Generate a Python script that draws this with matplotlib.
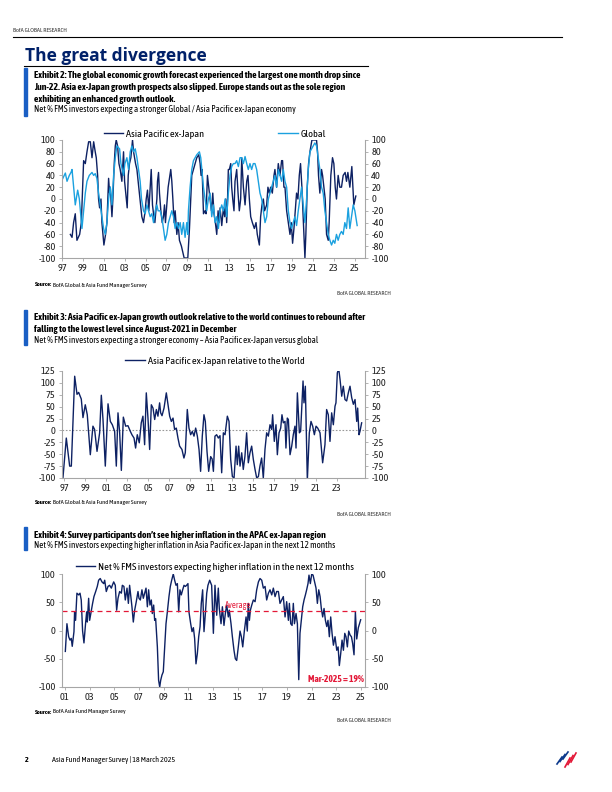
import matplotlib
matplotlib.use("Agg")
import matplotlib.pyplot as plt
from matplotlib import font_manager
from matplotlib.lines import Line2D

# ---------------- data ----------------
# Exhibit 2: net % expecting a stronger economy
ex2_apxj_t = [1997.80, 1997.96, 1998.11, 1998.27, 1998.43, 1998.69, 1998.85, 1999.07, 1999.23, 1999.39,
              1999.55, 1999.71, 1999.87, 2000.03, 2000.18, 2000.28, 2000.41, 2000.50, 2000.60, 2000.73,
              2000.82, 2000.92, 2001.01, 2001.17, 2001.30, 2001.36, 2001.46, 2001.55, 2001.62, 2001.78,
              2001.87, 2002.00, 2002.10, 2002.19, 2002.32, 2002.45, 2002.57, 2002.73, 2002.89, 2002.99,
              2003.15, 2003.24, 2003.34, 2003.46, 2003.59, 2003.75, 2003.85, 2004.04, 2004.17, 2004.23,
              2004.36, 2004.48, 2004.64, 2004.80, 2004.96, 2005.06, 2005.18, 2005.31, 2005.41, 2005.54,
              2005.66, 2005.76, 2005.89, 2005.98, 2006.08, 2006.14, 2006.24, 2006.33, 2006.46, 2006.59,
              2006.71, 2006.81, 2006.90, 2007.03, 2007.16, 2007.41, 2007.51, 2007.61, 2007.73, 2007.83,
              2007.99, 2008.11, 2008.24, 2008.43, 2008.56, 2008.69, 2009.04, 2009.10, 2009.20, 2009.32,
              2009.42, 2009.58, 2009.74, 2009.90, 2010.09, 2010.22, 2010.31, 2010.41, 2010.54, 2010.69,
              2010.79, 2010.92, 2011.04, 2011.17, 2011.30, 2011.43, 2011.55, 2011.68, 2011.81, 2011.94,
              2012.03, 2012.13, 2012.29, 2012.45, 2012.57, 2012.67, 2012.76, 2012.83, 2012.92, 2013.02,
              2013.15, 2013.24, 2013.34, 2013.46, 2013.56, 2013.72, 2013.85, 2013.97, 2014.10, 2014.20,
              2014.36, 2014.52, 2014.68, 2014.80, 2014.93, 2015.06, 2015.22, 2015.41, 2015.57, 2015.69,
              2015.89, 2016.01, 2016.14, 2016.27, 2016.39, 2016.59, 2016.71, 2016.84, 2016.97, 2017.13,
              2017.29, 2017.38, 2017.54, 2017.70, 2017.86, 2018.02, 2018.11, 2018.24, 2018.34, 2018.50,
              2018.66, 2018.82, 2018.94, 2019.07, 2019.20, 2019.32, 2019.45, 2019.58, 2019.71, 2019.83,
              2019.96, 2020.25, 2020.34, 2020.47, 2020.60, 2020.73, 2020.92, 2021.36, 2021.46, 2021.55,
              2021.68, 2021.84, 2021.94, 2022.06, 2022.19, 2022.32, 2022.48, 2022.57, 2022.73, 2022.89,
              2023.02, 2023.15, 2023.27, 2023.43, 2023.59, 2023.75, 2023.91, 2024.10, 2024.23, 2024.36,
              2024.55, 2024.74, 2024.87, 2024.93, 2025.12]
ex2_apxj = [-60, -65, -40, -25, -70, -60, -40, 65, 60, 80,
            97, 97, 70, 97, 80, 70, 40, 0, -15, 0,
            -40, -60, -78, -60, -40, -10, 35, 10, 20, -30,
            0, 60, 90, 100, 90, 60, 50, 30, 80, 30,
            0, -15, 40, 60, 70, 100, 80, 60, 50, 40,
            20, 0, -30, -40, -20, 0, 15, -20, 10, 50,
            -10, -25, -40, -20, 0, 30, 45, 10, -20, -40,
            -30, -10, -40, -10, 20, 50, 30, 0, -40, -20,
            -60, -40, -70, -80, -90, -100, -100, -80, -50, 0,
            40, 50, 60, 70, 75, 60, 40, 50, -25, -20,
            -25, 40, 20, 0, -20, 10, -25, -40, -60, -20,
            -40, -15, -45, -15, -30, 0, -40, -10, 50, 50,
            60, 20, 0, -20, 30, 50, 10, -20, 0, 70,
            20, -10, 30, 40, 0, -30, -40, -50, -40, -60,
            -78, -30, -10, 0, -20, -10, 20, 10, 20, 10,
            40, 50, 20, 60, 40, 65, 65, 20, 20, -20,
            -40, -60, -40, -75, -50, -20, 10, 0, 40, 60,
            20, -100, -60, 20, 60, 80, 100, 100, 80, 40,
            10, 50, 40, 20, 0, -60, -70, -40, 40, 70,
            60, 20, 0, 40, 20, 20, 40, 45, 30, 45,
            20, 55, 10, -10, 5]

ex2_glob_t = [1997.00, 1997.16, 1997.32, 1997.48, 1997.70, 1997.86, 1997.96, 1998.11, 1998.27, 1998.50,
              1998.66, 1998.91, 1999.07, 1999.23, 1999.39, 1999.61, 1999.87, 2000.03, 2000.18, 2000.34,
              2000.50, 2000.66, 2000.82, 2000.98, 2001.14, 2001.30, 2001.46, 2001.62, 2001.78, 2001.94,
              2002.10, 2002.25, 2002.51, 2002.64, 2002.76, 2002.89, 2003.02, 2003.21, 2003.37, 2003.53,
              2003.69, 2003.85, 2004.01, 2004.17, 2004.32, 2004.48, 2004.61, 2004.80, 2004.96, 2005.12,
              2005.28, 2005.44, 2005.60, 2005.76, 2005.92, 2006.08, 2006.20, 2006.39, 2006.55, 2006.71,
              2006.87, 2007.03, 2007.19, 2007.35, 2007.51, 2007.67, 2007.83, 2007.99, 2008.15, 2008.31,
              2008.46, 2008.62, 2008.78, 2008.94, 2009.04, 2009.10, 2009.26, 2009.42, 2009.58, 2009.90,
              2010.15, 2010.28, 2010.38, 2010.54, 2010.69, 2010.85, 2011.01, 2011.17, 2011.33, 2011.49,
              2011.65, 2011.81, 2011.97, 2012.13, 2012.29, 2012.45, 2012.61, 2012.76, 2012.92, 2013.08,
              2013.24, 2013.40, 2013.56, 2013.72, 2013.88, 2014.04, 2014.20, 2014.36, 2014.52, 2014.68,
              2014.83, 2014.99, 2015.15, 2015.31, 2015.47, 2015.63, 2015.79, 2015.95, 2016.11, 2016.27,
              2016.43, 2016.59, 2016.75, 2016.90, 2017.06, 2017.22, 2017.38, 2017.54, 2017.70, 2017.86,
              2018.02, 2018.18, 2018.34, 2018.50, 2018.66, 2018.82, 2018.97, 2019.13, 2019.29, 2019.45,
              2019.61, 2019.77, 2019.93, 2020.09, 2020.25, 2020.41, 2020.57, 2020.73, 2020.89, 2021.04,
              2021.20, 2021.36, 2021.52, 2021.68, 2021.84, 2022.00, 2022.16, 2022.32, 2022.48, 2022.64,
              2022.80, 2022.96, 2023.11, 2023.27, 2023.43, 2023.59, 2023.75, 2023.91, 2024.07, 2024.23,
              2024.39, 2024.55, 2024.71, 2024.87, 2025.03, 2025.25]
ex2_glob = [32, 38, 44, 30, 40, 45, 50, 20, -10, 15,
            0, -50, -20, 10, 30, 40, 45, 40, 43, 35,
            10, -10, -30, -50, -60, -40, 0, 20, -10, 40,
            70, 90, 85, 60, 50, 40, 60, 70, 50, 80,
            90, 80, 85, 70, 50, 30, 0, -20, -25, -10,
            -20, -30, -25, -40, -20, -10, -20, -20, -30, -50,
            -70, -60, -40, -30, -20, -30, -50, -40, -50, -40,
            -60, -40, -65, -40, -60, -20, 20, 50, 65, 75,
            80, 70, 50, 20, 0, -20, 0, 10, -30, -10,
            -40, -30, -50, -20, -10, -20, 0, -30, 10, 40,
            55, 60, 60, 65, 55, 70, 70, 60, 72, 60,
            50, 60, 50, 60, 60, 50, 30, 10, 0, -20,
            -40, -30, 0, 10, 20, 30, 40, 20, 50, 40,
            30, 50, 30, 20, -20, -40, -50, -40, -30, -45,
            -20, 0, 20, -10, -40, 0, 50, 80, 85, 90,
            95, 90, 70, 50, 20, 10, -20, -40, -60, -70,
            -78, -70, -75, -60, -70, -60, -55, -60, -40, -50,
            -15, -50, -30, -10, -20, -45]

ex2_ticks = list(range(1997, 2026, 2))
ex2_ticklabels = ["97", "99", "01", "03", "05", "07", "09", "11", "13", "15", "17", "19", "21", "23", "25"]

# Exhibit 3: Asia Pacific ex-Japan relative to the world
ex3_t = [1996.87, 1997.19, 1997.51, 1997.67, 1997.99, 1998.21, 1998.37, 1998.62, 1998.78, 1999.00,
         1999.19, 1999.48, 1999.73, 1999.89, 2000.12, 2000.37, 2000.53, 2000.69, 2000.91, 2001.17,
         2001.39, 2001.58, 2001.80, 2001.96, 2002.12, 2002.28, 2002.44, 2002.63, 2002.85, 2003.07,
         2003.30, 2003.45, 2003.65, 2003.80, 2003.96, 2004.15, 2004.34, 2004.50, 2004.66, 2004.82,
         2004.98, 2005.14, 2005.30, 2005.46, 2005.62, 2005.78, 2005.93, 2006.09, 2006.19, 2006.32,
         2006.51, 2006.73, 2006.89, 2007.05, 2007.21, 2007.37, 2007.52, 2007.68, 2007.84, 2008.00,
         2008.22, 2008.41, 2008.54, 2008.73, 2008.89, 2009.05, 2009.21, 2009.37, 2009.53, 2009.69,
         2009.85, 2010.00, 2010.16, 2010.32, 2010.45, 2010.61, 2010.77, 2010.96, 2011.10, 2011.22,
         2011.37, 2011.53, 2011.69, 2011.85, 2012.01, 2012.17, 2012.33, 2012.55, 2012.71, 2012.87,
         2013.03, 2013.19, 2013.38, 2013.50, 2013.63, 2013.76, 2013.92, 2014.07, 2014.23, 2014.39,
         2014.55, 2014.71, 2014.87, 2015.03, 2015.19, 2015.35, 2015.51, 2015.66, 2015.82, 2015.98,
         2016.14, 2016.30, 2016.46, 2016.62, 2016.78, 2016.87, 2017.03, 2017.19, 2017.32, 2017.48,
         2017.64, 2017.76, 2017.89, 2018.05, 2018.14, 2018.27, 2018.37, 2018.53, 2018.69, 2018.84,
         2019.00, 2019.10, 2019.23, 2019.42, 2019.54, 2019.64, 2019.77, 2019.86, 2019.99, 2020.18,
         2020.37, 2020.53, 2020.69, 2020.85, 2021.01, 2021.17, 2021.39, 2021.64, 2021.86, 2022.02,
         2022.18, 2022.34, 2022.50, 2022.66, 2022.82, 2022.91, 2023.04, 2023.17, 2023.30, 2023.46,
         2023.61, 2023.77, 2023.93, 2024.09, 2024.25, 2024.41, 2024.57, 2024.73, 2024.89, 2024.98,
         2025.11, 2025.20, 2025.36]
ex3_rel = [-100, -16, -75, -75, 114, 76, 80, 66, 27, 54,
           33, -51, 9, 2, -44, -5, 74, 23, -75, 56,
           19, 12, -2, -75, 37, -5, -84, 28, 9, 10,
           -2, -9, -16, -37, -9, -26, 16, 30, -30, 79,
           26, -40, 54, 47, 23, 44, 30, 58, 37, 31,
           47, 79, 54, 30, 19, 26, 2, 5, -16, -33,
           -40, -58, -47, 44, 5, -9, -2, -12, 5, -12,
           -40, -86, -12, 33, 19, -44, -86, -55, -60, -86,
           -12, -9, -16, -11, -89, -5, -9, 30, 19, -61,
           -97, -100, -33, -72, -33, -75, -47, -82, -54, -5,
           -68, -47, -33, -61, -82, -100, -97, -75, -58, -100,
           -40, -5, -12, 12, 2, 33, -23, 12, -51, -5,
           5, 33, 16, 19, -37, 26, 23, -51, -33, -9,
           9, -37, 79, -5, -2, 44, 104, 58, 93, -105,
           -5, 19, 9, -9, 9, 5, -5, -68, -30, 44,
           33, -23, 37, 12, 51, 58, 121, 130, 107, 72,
           93, 65, 62, 79, 93, 69, 55, 65, 19, 47,
           -9, -2, 16]

ex3_ticks = list(range(1997, 2024, 2))
ex3_ticklabels = ["97", "99", "01", "03", "05", "07", "09", "11", "13", "15", "17", "19", "21", "23"]

# Exhibit 4: net % expecting higher inflation in the next 12 months
ex4_t = [2001.03, 2001.16, 2001.30, 2001.41, 2001.51, 2001.59, 2001.73, 2001.78, 2001.86, 2001.97,
         2002.11, 2002.22, 2002.32, 2002.43, 2002.54, 2002.68, 2002.76, 2002.81, 2002.92, 2003.00,
         2003.14, 2003.24, 2003.35, 2003.49, 2003.62, 2003.73, 2003.86, 2004.00, 2004.14, 2004.22,
         2004.35, 2004.49, 2004.62, 2004.76, 2004.84, 2004.95, 2005.08, 2005.19, 2005.30, 2005.43,
         2005.57, 2005.65, 2005.78, 2005.89, 2006.03, 2006.14, 2006.24, 2006.43, 2006.54, 2006.65,
         2006.78, 2006.92, 2007.00, 2007.11, 2007.24, 2007.35, 2007.46, 2007.57, 2007.68, 2007.78,
         2007.89, 2008.00, 2008.08, 2008.19, 2008.27, 2008.35, 2008.49, 2008.59, 2008.68, 2008.76,
         2008.86, 2008.97, 2009.08, 2009.19, 2009.30, 2009.43, 2009.54, 2009.65, 2009.78, 2009.89,
         2010.00, 2010.11, 2010.22, 2010.32, 2010.43, 2010.54, 2010.65, 2010.76, 2010.86, 2010.97,
         2011.05, 2011.19, 2011.30, 2011.41, 2011.51, 2011.62, 2011.73, 2011.84, 2011.95, 2012.05,
         2012.16, 2012.27, 2012.38, 2012.49, 2012.59, 2012.73, 2012.89, 2013.03, 2013.16, 2013.30,
         2013.43, 2013.51, 2013.65, 2013.76, 2013.89, 2014.00, 2014.11, 2014.24, 2014.32, 2014.46,
         2014.57, 2014.70, 2014.81, 2014.92, 2015.05, 2015.19, 2015.30, 2015.41, 2015.54, 2015.68,
         2015.78, 2015.86, 2015.95, 2016.03, 2016.14, 2016.27, 2016.41, 2016.54, 2016.68, 2016.81,
         2016.95, 2017.08, 2017.22, 2017.35, 2017.49, 2017.62, 2017.76, 2017.89, 2018.03, 2018.16,
         2018.30, 2018.43, 2018.57, 2018.70, 2018.84, 2018.97, 2019.11, 2019.19, 2019.30, 2019.41,
         2019.51, 2019.60, 2019.73, 2019.84, 2019.95, 2020.05, 2020.16, 2020.27, 2020.38, 2020.49,
         2020.59, 2020.70, 2020.78, 2020.89, 2021.00, 2021.11, 2021.24, 2021.35, 2021.46, 2021.57,
         2021.68, 2021.78, 2021.89, 2022.00, 2022.11, 2022.22, 2022.32, 2022.43, 2022.54, 2022.65,
         2022.76, 2022.89, 2023.03, 2023.14, 2023.24, 2023.35, 2023.46, 2023.57, 2023.68, 2023.78,
         2023.89, 2024.00, 2024.11, 2024.22, 2024.32, 2024.43, 2024.54, 2024.65, 2024.78, 2024.97]
ex4_infl = [-37, 12, -11, -17, -14, -28, -2, 33, 18, 66,
            63, 66, 54, -1, -22, 15, 33, 15, 57, 18,
            36, 48, 60, 69, 78, 89, 92, 86, 83, 89,
            69, 78, 80, 75, 80, 86, 80, 36, 57, 69,
            66, 80, 78, 54, 75, 48, 80, 42, 15, 36,
            51, 69, 57, 54, 72, 57, 66, 75, 42, 72,
            45, 54, 30, 45, 18, 21, -29, -88, -100, -88,
            -79, -73, -29, 12, 33, 60, 78, 89, 100, 89,
            80, 83, 33, 72, 63, 72, 80, 78, 80, 83,
            33, 12, -2, 5, -14, -59, -41, -11, 7, 48,
            72, -2, 30, 66, 80, 89, 80, -5, 80, 27,
            75, 39, 12, 42, 9, 30, 45, 24, 36, 12,
            -11, -35, -50, -53, -29, -1, -11, -29, -1, 24,
            -1, 48, 18, 36, 45, 54, 51, 72, 86, 92,
            89, 75, 78, 54, 66, 72, 63, 75, 60, 69,
            69, 48, 54, 60, 24, 51, 18, 48, 12, 9,
            48, 12, 30, 12, -87, -5, 18, 42, 54, 63,
            72, 83, 98, 83, 100, 98, 86, 75, 48, 72,
            60, 39, 24, 39, 18, 7, 18, -11, 24, -5,
            -26, -11, -35, -29, -62, -41, -17, -35, -5, -11,
            -29, -1, -8, -11, -23, -43, 33, -15, 5, 19]
ex4_average = 34
ex4_last_label = "Mar-2025 = 19%"

ex4_ticks = list(range(2001, 2026, 2))
ex4_ticklabels = ["01", "03", "05", "07", "09", "11", "13", "15", "17", "19", "21", "23", "25"]

# ---------------- style ----------------
W, H = 612, 792
NAVY = "#0d2163"
LIGHT = "#1ba1df"
TITLE = "#012169"
BAR = "#1a5fc4"
RED = "#e31837"
SPINE = "#a6a6a6"

names = {f.name for f in font_manager.fontManager.ttflist}
COND = "Liberation Sans"
for cand in ["Asap Condensed", "Barlow Semi Condensed", "Liberation Sans Narrow"]:
    if cand in names:
        COND = cand
        break
plt.rcParams["font.family"] = [COND, "DejaVu Sans"]
plt.rcParams["axes.unicode_minus"] = False


def fx(x):
    return x / W


def fy(y):
    return 1 - y / H


def txt(x, y, s, **kw):
    kw.setdefault("va", "center")
    return fig.text(fx(x), fy(y), s, **kw)


def make_axes(left, right, top, bottom):
    ax = fig.add_axes([fx(left), fy(bottom), (right - left) / W, (bottom - top) / H])
    ax.spines["top"].set_visible(False)
    for side in ["left", "right", "bottom"]:
        ax.spines[side].set_color(SPINE)
        ax.spines[side].set_linewidth(0.8)
    ax.tick_params(axis="both", labelsize=7.5, colors="#222222", length=2.5, width=0.6,
                   color=SPINE, direction="out", pad=2)
    ax.tick_params(axis="y", right=True, labelright=True)
    return ax


def exhibit_head(top, lines, sub, bottom):
    fig.add_artist(plt.Rectangle((fx(24), fy(bottom)), 3 / W, (bottom - top) / H,
                                 color=BAR, transform=fig.transFigure))
    y = top + 8
    for ln in lines:
        txt(34, y, ln, fontsize=7.0, fontweight="bold")
        y += 11.8
    txt(34, y - 1.5, sub, fontsize=6.5)


def source_line(ax, y, s):
    t = txt(35, y, "Source:", fontsize=4.6, fontweight="bold")
    ax.annotate(" " + s, xy=(1, 0), xycoords=t, fontsize=4.6, va="bottom", ha="left",
                annotation_clip=False)


def legend(ax, y, **kw):
    ax.legend(loc="center", bbox_to_anchor=(fx(215), fy(y)), bbox_transform=fig.transFigure,
              frameon=False, fontsize=7.4, handlelength=1.9, handletextpad=0.3, borderpad=0, **kw)


fig = plt.figure(figsize=(W / 100, H / 100), dpi=100)

# header
txt(13, 31, "BofA GLOBAL RESEARCH", fontsize=4.5, color="#333333")
fig.add_artist(Line2D([fx(13), fx(562)], [fy(37), fy(37)], color="black", lw=0.8))
txt(25, 56, "The great divergence", fontsize=12.5, fontweight="bold", color=TITLE,
    family=["Open Sans", "DejaVu Sans"])
fig.add_artist(Line2D([fx(24), fx(368)], [fy(66), fy(66)], color="black", lw=0.8))

# ---------------- Exhibit 2 ----------------
exhibit_head(68, ["Exhibit 2: The global economic growth forecast experienced the largest one month drop since",
                  "Jun-22. Asia ex-Japan growth prospects also slipped. Europe stands out as the sole region",
                  "exhibiting an enhanced growth outlook."],
             "Net % FMS investors expecting a stronger Global / Asia Pacific ex-Japan economy", 116)

ax0 = make_axes(62, 365, 140, 258)
ax0.plot(ex2_apxj_t, ex2_apxj, color=NAVY, lw=1.0, label="Asia Pacific ex-Japan")
ax0.plot(ex2_glob_t, ex2_glob, color=LIGHT, lw=1.0, label="Global")
ax0.set_xlim(1997, 2026)
ax0.set_ylim(-100, 100)
ax0.set_yticks(range(-100, 101, 20))
ax0.set_xticks(ex2_ticks)
ax0.set_xticklabels(ex2_ticklabels)
legend(ax0, 134, ncol=2, columnspacing=7.2)
source_line(ax0, 285, "BofA Global & Asia Fund Manager Survey")
txt(391, 293, "BofA GLOBAL RESEARCH", fontsize=4.5, color="#333333", ha="right")

# ---------------- Exhibit 3 ----------------
exhibit_head(310, ["Exhibit 3: Asia Pacific ex-Japan growth outlook relative to the world continues to rebound after",
                   "falling to the lowest level since August-2021 in December"],
             "Net % FMS investors expecting a stronger economy \u2013 Asia Pacific ex-Japan versus global", 345)

ax1 = make_axes(62, 365, 371, 478)
ax1.axhline(0, color="#999999", lw=0.8, ls=(0, (1.5, 1.5)))
ax1.plot(ex3_t, ex3_rel, color=NAVY, lw=1.0, label="Asia Pacific ex-Japan relative to the World")
ax1.set_xlim(1996.78, 2025.68)
ax1.set_ylim(-100, 125)
ax1.set_yticks(range(-100, 126, 25))
ax1.set_xticks(ex3_ticks)
ax1.set_xticklabels(ex3_ticklabels)
legend(ax1, 361)
source_line(ax1, 503, "BofA Global & Asia Fund Manager Survey")
txt(391, 515, "BofA GLOBAL RESEARCH", fontsize=4.5, color="#333333", ha="right")

# ---------------- Exhibit 4 ----------------
exhibit_head(527, ["Exhibit 4: Survey participants don\u2019t see higher inflation in the APAC ex-Japan region"],
             "Net % FMS investors expecting higher inflation in Asia Pacific ex-Japan in the next 12 months", 550)

ax2 = make_axes(62, 365, 574, 687)
ax2.plot(ex4_t, ex4_infl, color=NAVY, lw=1.0,
         label="Net % FMS investors expecting higher inflation in the next 12 months")
ax2.axhline(ex4_average, color=RED, lw=0.9, ls=(0, (4, 3)))
ax2.text(2015.0, ex4_average + 2, "Average", color=RED, fontsize=6.3, ha="center", va="bottom")
ax2.text(2025.2, -86, ex4_last_label, color=RED, fontsize=6.8, fontweight="bold",
         ha="right", va="center")
ax2.set_xlim(2000.76, 2025.32)
ax2.set_ylim(-100, 100)
ax2.set_yticks(range(-100, 101, 50))
ax2.set_xticks(ex4_ticks)
ax2.set_xticklabels(ex4_ticklabels)
legend(ax2, 567)
source_line(ax2, 712, "BofA Asia Fund Manager Survey")
txt(391, 721, "BofA GLOBAL RESEARCH", fontsize=4.5, color="#333333", ha="right")

# ---------------- footer ----------------
txt(25, 760, "2", fontsize=5.8, fontweight="bold")
txt(52, 760, "Asia Fund Manager Survey | 18 March 2025", fontsize=5.8)
# small flag logo
for i in range(3):
    x0 = 557 + i * 3
    fig.add_artist(Line2D([fx(x0), fx(x0 + 5)], [fy(764 - i * 2.5), fy(757 - i * 2.5)],
                          color="#0d3a8c", lw=1.2))
    fig.add_artist(Line2D([fx(x0 + 8), fx(x0 + 13)], [fy(767 - i * 2.5), fy(758 - i * 2.5)],
                          color=RED, lw=1.2))

fig.savefig("out.png", dpi=100)
